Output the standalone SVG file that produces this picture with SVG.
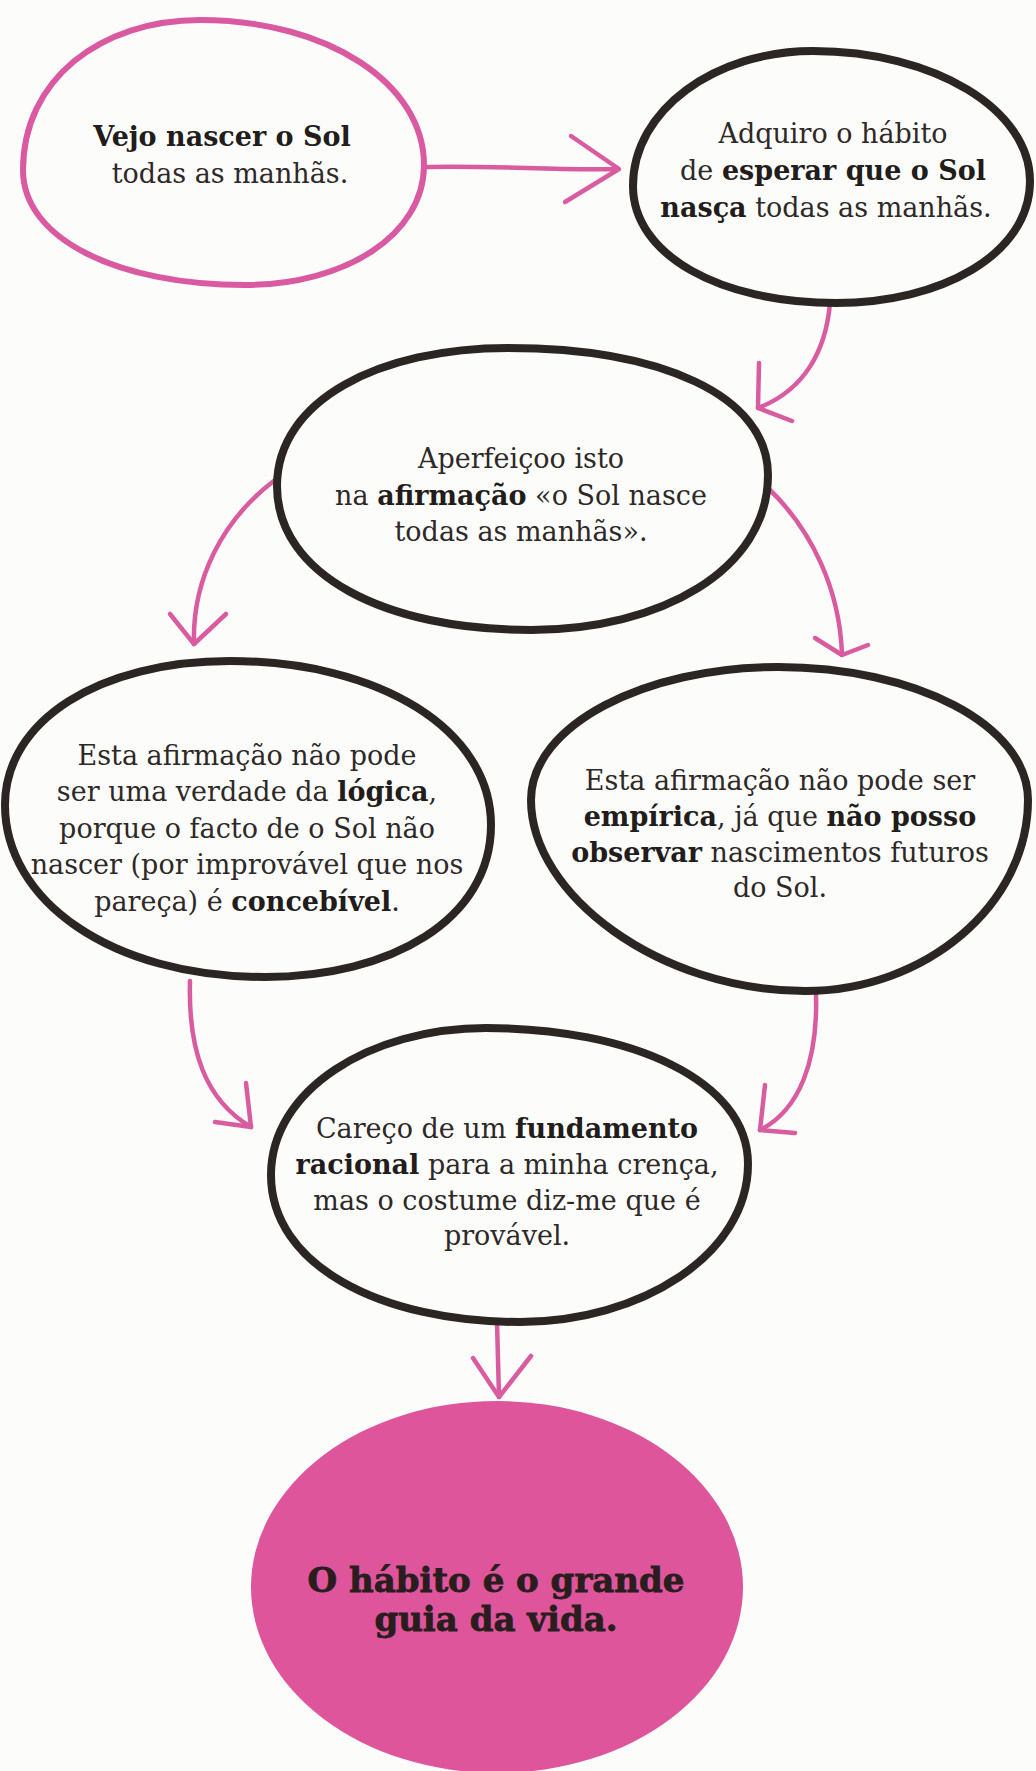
<svg xmlns="http://www.w3.org/2000/svg" width="1036" height="1771" viewBox="0 0 1036 1771">
  <style>
    .ink { fill: none; stroke: #2b2523; stroke-width: 8; stroke-linejoin: round; }
    .pinkline { fill: none; stroke: #d95aa0; stroke-width: 6; stroke-linejoin: round; }
    .arrow { fill: none; stroke: #d85c9f; stroke-width: 4.5; stroke-linecap: round; stroke-linejoin: round; }
    .txt { font-family: "DejaVu Serif", serif; font-size: 27px; fill: #2e2827; text-anchor: middle; }
    .b { font-weight: bold; fill: #221c1b; }
    .big { font-family: "DejaVu Serif", serif; font-size: 34px; font-weight: bold; fill: #2a1d1e; stroke: #2a1d1e; stroke-width: 0.8; text-anchor: middle; }
  </style>

  <rect x="0" y="0" width="1036" height="1771" fill="#fcfcfb"/>

  <!-- connectors -->
  <g id="connectors">
    <path class="arrow" d="M 426,167 C 490,165 560,171 617,169"/>
    <path class="arrow" d="M 571,136 L 619,169 L 565,202"/>

    <path class="arrow" d="M 830,303 C 826,350 805,390 758,408"/>
    <path class="arrow" d="M 759,363 L 758,408 L 792,421"/>

    <path class="arrow" d="M 275,480 C 222,520 192,580 194,644"/>
    <path class="arrow" d="M 170,614 L 194,644 L 226,614"/>

    <path class="arrow" d="M 768,488 C 812,530 840,590 842,655"/>
    <path class="arrow" d="M 815,638 L 842,655 L 868,645"/>

    <path class="arrow" d="M 190,981 C 188,1050 205,1100 251,1127"/>
    <path class="arrow" d="M 246,1083 L 251,1127 L 215,1122"/>

    <path class="arrow" d="M 816,994 C 818,1060 800,1110 760,1130"/>
    <path class="arrow" d="M 765,1085 L 760,1130 L 795,1133"/>

    <path class="arrow" d="M 497,1322 L 499,1397"/>
    <path class="arrow" d="M 473,1358 L 499,1397 L 531,1356"/>
  </g>

  <!-- observation -->
  <g id="node-observe">
    <path class="pinkline" d="M 23,170 C 23,80 100,20 200,20 C 328,20 424,84 424,165 C 424,235 345,285 245,285 C 120,285 23,240 23,170 Z"/>
    <text class="txt" x="222" y="146"><tspan class="b">Vejo nascer o Sol</tspan></text>
    <text class="txt" x="230" y="183">todas as manhãs.</text>
  </g>

  <!-- habit -->
  <g id="node-habit">
    <path class="ink" d="M 633,186 C 633,110 715,51 813,51 C 935,51 1030,110 1030,181 C 1030,255 940,303 836,303 C 720,303 633,255 633,186 Z"/>
    <text class="txt" x="833" y="143">Adquiro o hábito</text>
    <text class="txt" x="833" y="180">de <tspan class="b">esperar que o Sol</tspan></text>
    <text class="txt" x="826" y="217"><tspan class="b">nasça</tspan> todas as manhãs.</text>
  </g>

  <!-- statement -->
  <g id="node-statement">
    <path class="ink" d="M 277,486 C 277,400 380,348 508,348 C 660,348 768,395 768,475 C 768,570 660,630 531,630 C 385,630 277,575 277,486 Z"/>
    <text class="txt" x="521" y="468">Aperfeiçoo isto</text>
    <text class="txt" x="521" y="505">na <tspan class="b">afirmação</tspan> «o Sol nasce</text>
    <text class="txt" x="521" y="541">todas as manhãs».</text>
  </g>

  <!-- not logic -->
  <g id="node-logic">
    <path class="ink" d="M 5,805 C 5,720 100,661 230,661 C 380,661 491,730 491,825 C 491,920 390,977 265,977 C 110,977 5,900 5,805 Z"/>
    <text class="txt" x="247" y="765">Esta afirmação não pode</text>
    <text class="txt" x="247" y="801">ser uma verdade da <tspan class="b">lógica</tspan>,</text>
    <text class="txt" x="247" y="838">porque o facto de o Sol não</text>
    <text class="txt" x="247" y="874">nascer (por improvável que nos</text>
    <text class="txt" x="247" y="911">pareça) é <tspan class="b">concebível</tspan>.</text>
  </g>

  <!-- not empirical -->
  <g id="node-empirical">
    <path class="ink" d="M 531,800 C 531,725 645,667 778,667 C 915,667 1028,725 1028,800 C 1028,905 925,991 805,991 C 660,991 531,895 531,800 Z"/>
    <text class="txt" x="780" y="790">Esta afirmação não pode ser</text>
    <text class="txt" x="780" y="826"><tspan class="b">empírica</tspan>, já que <tspan class="b">não posso</tspan></text>
    <text class="txt" x="780" y="862"><tspan class="b">observar</tspan> nascimentos futuros</text>
    <text class="txt" x="780" y="897">do Sol.</text>
  </g>

  <!-- custom -->
  <g id="node-custom">
    <path class="ink" d="M 271,1175 C 271,1090 370,1028 486,1028 C 630,1028 748,1080 748,1164 C 748,1255 640,1322 520,1322 C 380,1322 271,1265 271,1175 Z"/>
    <text class="txt" x="507" y="1138">Careço de um <tspan class="b">fundamento</tspan></text>
    <text class="txt" x="507" y="1174"><tspan class="b">racional</tspan> para a minha crença,</text>
    <text class="txt" x="507" y="1210">mas o costume diz-me que é</text>
    <text class="txt" x="507" y="1245">provável.</text>
  </g>

  <!-- conclusion -->
  <g id="node-conclusion">
    <ellipse cx="497" cy="1587" rx="246" ry="186" fill="#de559c"/>
    <text class="big" x="496" y="1592">O hábito é o grande</text>
    <text class="big" x="496" y="1631">guia da vida.</text>
  </g>
</svg>
